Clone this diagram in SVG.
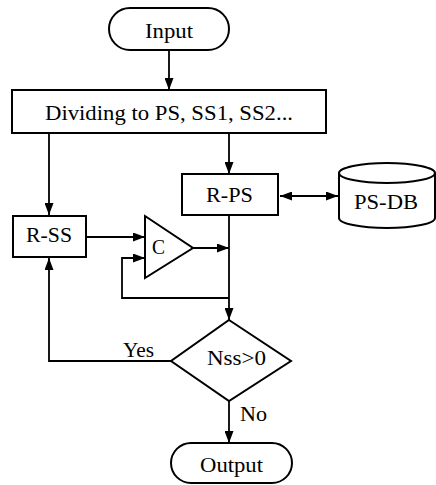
<svg xmlns="http://www.w3.org/2000/svg" width="436" height="485" viewBox="0 0 436 485">
<defs>
<style>
.n{fill:#fff;stroke:#000;stroke-width:2}
.c{fill:none;stroke:#000;stroke-width:1.8}
text{font-family:"Liberation Serif","Times New Roman",serif;font-size:21px;fill:#000}
</style>
<marker id="a" viewBox="0 0 12 9" refX="12" refY="4.5" markerWidth="12" markerHeight="9" markerUnits="userSpaceOnUse" orient="auto-start-reverse">
<path d="M0,0 L12,4.5 L0,9 Z" fill="#000"/>
</marker>
</defs>
<rect width="436" height="485" fill="#fff"/>
<g id="connectors">
<path class="c" d="M169,50 V90" marker-end="url(#a)"/>
<path class="c" d="M49,133 V215" marker-end="url(#a)"/>
<path class="c" d="M229,133 V174" marker-end="url(#a)"/>
<path class="c" d="M280,196 H338" marker-start="url(#a)" marker-end="url(#a)"/>
<path class="c" d="M86,237 H145" marker-end="url(#a)"/>
<path class="c" d="M193,248 H229" marker-end="url(#a)"/>
<path class="c" d="M229,215 V320" marker-end="url(#a)"/>
<path class="c" d="M229,298 H122 V258 H145" marker-end="url(#a)"/>
<path class="c" d="M171,361 H49 V258" marker-end="url(#a)"/>
<path class="c" d="M229,401 V443" marker-end="url(#a)"/>
<text x="123" y="357" textLength="31" lengthAdjust="spacingAndGlyphs">Yes</text>
<text x="240" y="421" textLength="27" lengthAdjust="spacingAndGlyphs">No</text>
</g>
<g id="input">
<rect class="n" x="109" y="8" width="120" height="42" rx="21"/>
<text x="145" y="38" textLength="48" lengthAdjust="spacingAndGlyphs">Input</text>
</g>
<g id="dividing">
<rect class="n" x="12" y="90" width="314" height="43"/>
<text x="45" y="120" textLength="248" lengthAdjust="spacingAndGlyphs">Dividing to PS, SS1, SS2...</text>
</g>
<g id="rps">
<rect class="n" x="182" y="174" width="96" height="41"/>
<text x="206" y="202" textLength="47" lengthAdjust="spacingAndGlyphs">R-PS</text>
</g>
<g id="psdb">
<path class="n" d="M339,173 A48,10 0 0 1 435,173 V218 A48,10 0 0 1 339,218 Z"/>
<path class="n" fill="none" d="M339,173 A48,10 0 0 0 435,173"/>
<text x="354" y="209" textLength="64" lengthAdjust="spacingAndGlyphs">PS-DB</text>
</g>
<g id="rss">
<rect class="n" x="13" y="216" width="73" height="41"/>
<text x="26" y="242" textLength="46" lengthAdjust="spacingAndGlyphs">R-SS</text>
</g>
<g id="comparator">
<path class="n" d="M145,216 L193,248 L145,278 Z"/>
<text x="152" y="254" textLength="13" lengthAdjust="spacingAndGlyphs">C</text>
</g>
<g id="decision">
<path class="n" d="M229,320 L291,361 L229,401 L171,361 Z"/>
<text x="207" y="365" textLength="59" lengthAdjust="spacingAndGlyphs">Nss&gt;0</text>
</g>
<g id="output">
<rect class="n" x="171" y="443" width="121" height="40" rx="20"/>
<text x="200" y="472" textLength="63" lengthAdjust="spacingAndGlyphs">Output</text>
</g>
</svg>
